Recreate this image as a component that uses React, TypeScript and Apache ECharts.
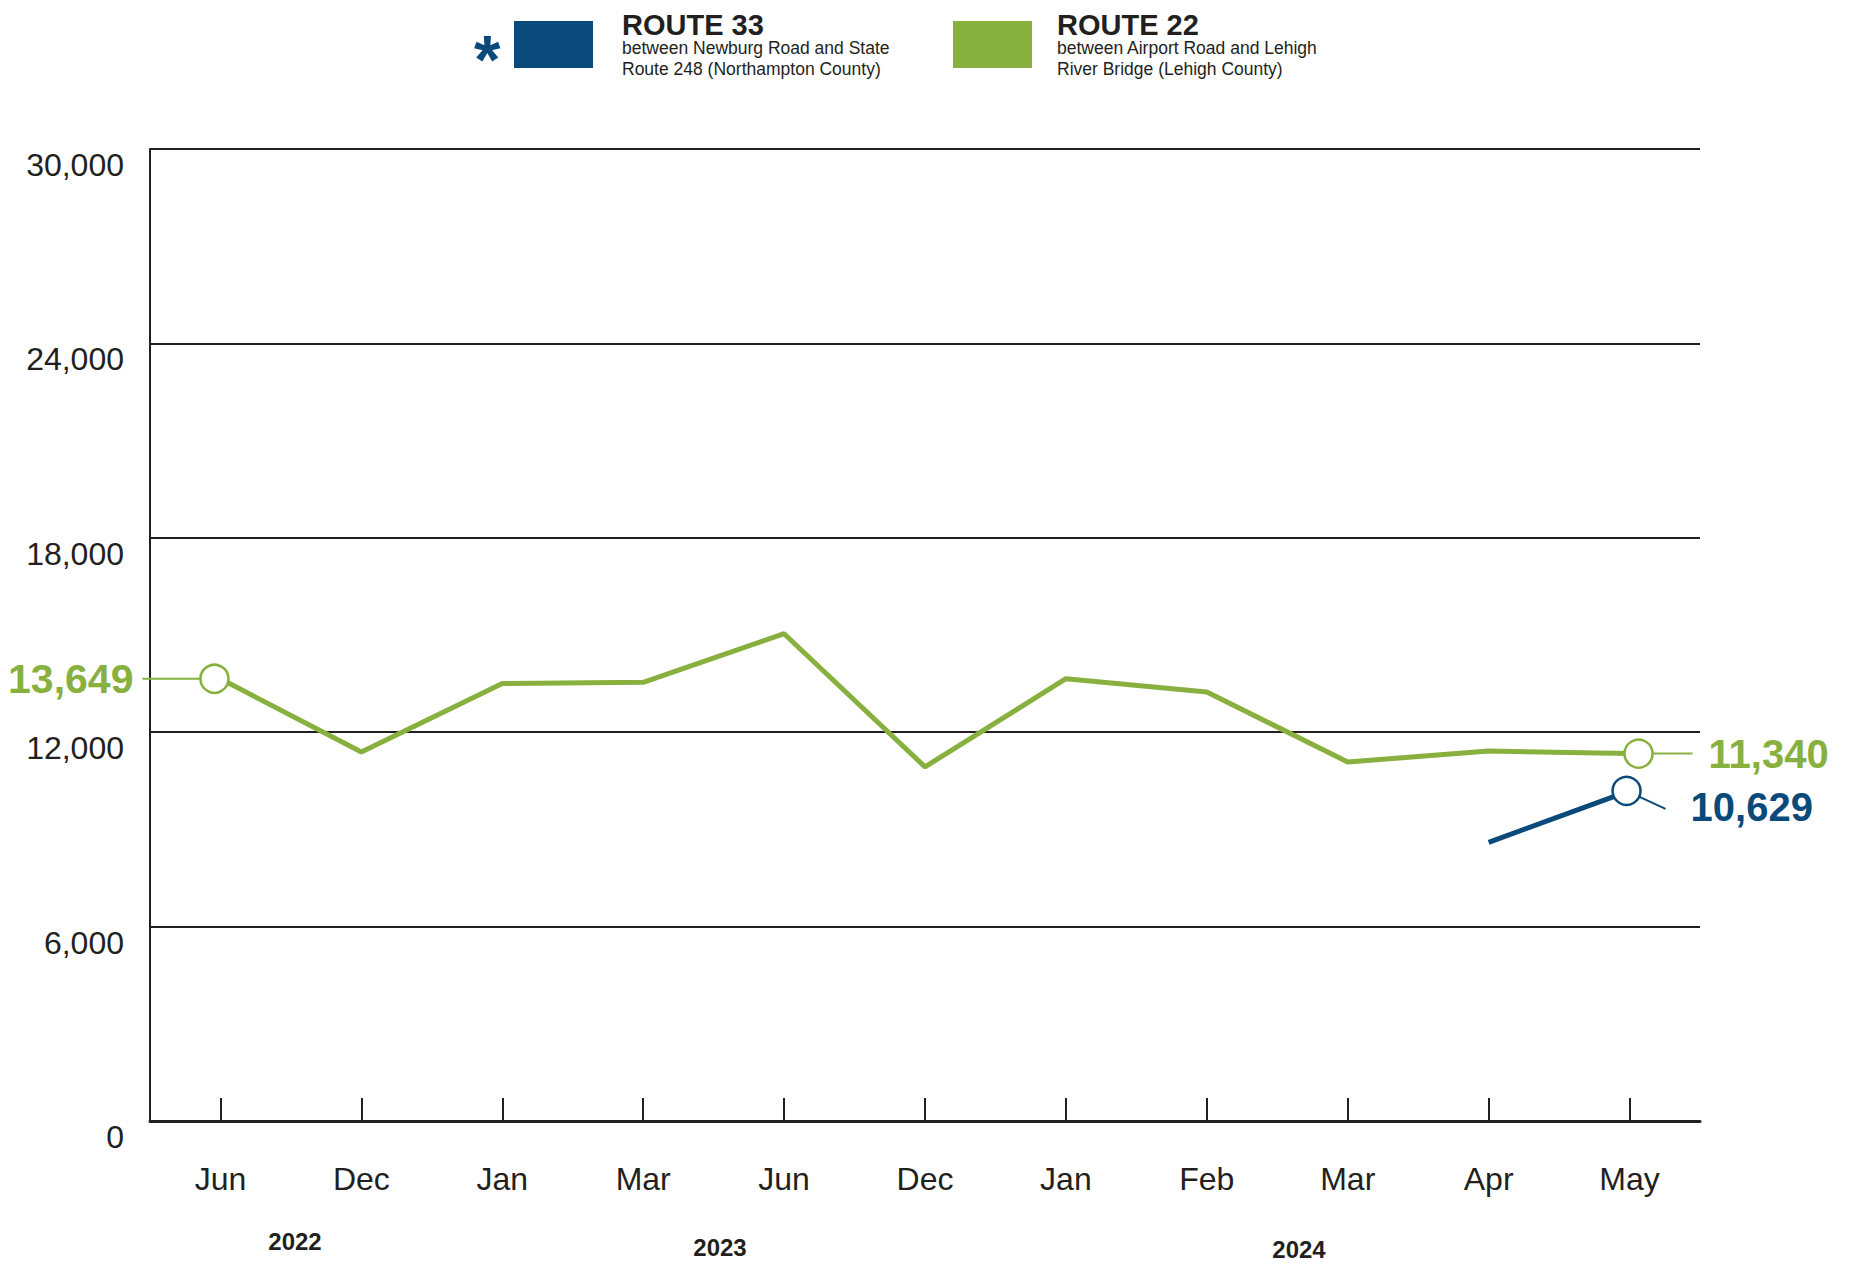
import React, { useEffect, useRef } from "react";
import * as echarts from "echarts";

const months = ["Jun", "Dec", "Jan", "Mar", "Jun", "Dec", "Jan", "Feb", "Mar", "Apr", "May"];
const route22 = [13649, 11390, 13500, 13540, 15040, 10930, 13650, 13240, 11080, 11420, 11340];
const route33 = [null, null, null, null, null, null, null, null, null, 8600, 10190];
const route33LastLabel = "10,629";
const yearLabels = ["2022", "2023", "2024"];
const yearPos = [[295, 1241], [720, 1247], [1299, 1249]];
const yMin = 0;
const yMax = 30000;
const yInterval = 6000;

const BLUE = "#0a4a7a";
const GREEN = "#87b03e";
const DARK = "#231f20";
const FONT = "'Liberation Sans', Arial, Helvetica, sans-serif";

const fmt = (v: number) => v.toLocaleString("en-US");

export default function App() {
  const ref = useRef<HTMLDivElement>(null);
  useEffect(() => {
    if (!ref.current) return;
    const chart = echarts.init(ref.current, undefined, { renderer: "svg" });
    const last = months.length - 1;
    const offsets: Record<string, number> = { g0: -6, gL: 9, bL: -3 };
    const pt = (arr: (number | null)[], i: number, keep: Record<number, number>, color: string) => {
      const v = arr[i];
      if (v == null) return null;
      if (i in keep) {
        return {
          value: v,
          symbol: "circle",
          symbolSize: 28,
          symbolOffset: [keep[i], 0],
          itemStyle: { color: "#ffffff", borderColor: color, borderWidth: 2.5 },
        };
      }
      return { value: v, symbol: "none" };
    };
    chart.setOption({
      animation: false,
      textStyle: { fontFamily: FONT },
      grid: { left: 150, right: 150, top: 149, bottom: 142, containLabel: false },
      xAxis: {
        type: "category",
        data: months,
        boundaryGap: true,
        axisLine: { show: true, lineStyle: { color: DARK, width: 3 } },
        axisTick: { show: true, inside: true, length: 23, alignWithLabel: true, lineStyle: { color: DARK, width: 2 } },
        axisLabel: { fontSize: 32, color: DARK, margin: 42, fontFamily: FONT },
        splitLine: { show: false },
      },
      yAxis: {
        type: "value",
        min: yMin,
        max: yMax,
        interval: yInterval,
        axisLine: { show: true, lineStyle: { color: DARK, width: 2 } },
        axisTick: { show: false },
        axisLabel: {
          fontSize: 32,
          color: DARK,
          margin: 26,
          verticalAlign: "top",
          fontFamily: FONT,
          formatter: (v: number) => fmt(v),
        },
        splitLine: { show: true, lineStyle: { color: DARK, width: 2 } },
      },
      series: [
        {
          name: "ROUTE 33",
          type: "line",
          data: route33.map((_, i) => pt(route33, i, { [last]: offsets.bL }, BLUE)),
          lineStyle: { color: BLUE, width: 5 },
          itemStyle: { color: BLUE },
          symbol: "circle",
          z: 3,
        },
        {
          name: "ROUTE 22",
          type: "line",
          data: route22.map((_, i) => pt(route22, i, { 0: offsets.g0, [last]: offsets.gL }, GREEN)),
          lineStyle: { color: GREEN, width: 5 },
          itemStyle: { color: GREEN },
          symbol: "circle",
          z: 4,
        },
      ],
    });

    const g0 = chart.convertToPixel({ seriesIndex: 1 }, [0, route22[0]]) as number[];
    const g1 = chart.convertToPixel({ seriesIndex: 1 }, [last, route22[last]]) as number[];
    const b1 = chart.convertToPixel({ seriesIndex: 0 }, [last, route33[last] as number]) as number[];
    const g0x = g0[0] + offsets.g0;
    const g1x = g1[0] + offsets.gL;
    const b1x = b1[0] + offsets.bL;

    const graphic: any[] = [
      // legend
      { type: "text", left: 474, top: 25, style: { text: "*", fill: BLUE, font: `bold 68px ${FONT}` } },
      { type: "rect", shape: { x: 514, y: 21, width: 79, height: 47 }, style: { fill: BLUE } },
      { type: "text", x: 622, y: 10, style: { text: "ROUTE 33", fill: DARK, font: `bold 29px ${FONT}`, verticalAlign: "top" } },
      { type: "text", x: 622, y: 48, style: { text: "between Newburg Road and State", fill: DARK, font: `17.5px ${FONT}`, verticalAlign: "middle" } },
      { type: "text", x: 622, y: 69, style: { text: "Route 248 (Northampton County)", fill: DARK, font: `17.5px ${FONT}`, verticalAlign: "middle" } },
      { type: "rect", shape: { x: 953, y: 21, width: 79, height: 47 }, style: { fill: GREEN } },
      { type: "text", x: 1057, y: 10, style: { text: "ROUTE 22", fill: DARK, font: `bold 29px ${FONT}`, verticalAlign: "top" } },
      { type: "text", x: 1057, y: 48, style: { text: "between Airport Road and Lehigh", fill: DARK, font: `17.5px ${FONT}`, verticalAlign: "middle" } },
      { type: "text", x: 1057, y: 69, style: { text: "River Bridge (Lehigh County)", fill: DARK, font: `17.5px ${FONT}`, verticalAlign: "middle" } },
      // annotations
      { type: "line", shape: { x1: g0x - 72, y1: g0[1], x2: g0x - 14, y2: g0[1] }, style: { stroke: GREEN, lineWidth: 2 }, z: 10 },
      { type: "text", x: g0x - 81, y: g0[1], style: { text: fmt(route22[0]), fill: GREEN, font: `bold 41px ${FONT}`, align: "right", verticalAlign: "middle" }, z: 10 },
      { type: "line", shape: { x1: g1x + 14, y1: g1[1], x2: g1x + 54, y2: g1[1] }, style: { stroke: GREEN, lineWidth: 2 }, z: 10 },
      { type: "text", x: g1x + 70, y: g1[1], style: { text: fmt(route22[last]), fill: GREEN, font: `bold 40px ${FONT}`, align: "left", verticalAlign: "middle" }, z: 10 },
      { type: "line", shape: { x1: b1x + 13, y1: b1[1] + 6, x2: b1x + 39, y2: b1[1] + 18 }, style: { stroke: BLUE, lineWidth: 2 }, z: 10 },
      { type: "text", x: b1x + 64, y: b1[1] + 16, style: { text: route33LastLabel, fill: BLUE, font: `bold 40px ${FONT}`, align: "left", verticalAlign: "middle" }, z: 10 },
    ];
    yearLabels.forEach((t, i) => {
      graphic.push({
        type: "text",
        x: yearPos[i][0],
        y: yearPos[i][1],
        style: { text: t, fill: DARK, font: `bold 24px ${FONT}`, align: "center", verticalAlign: "middle" },
      });
    });
    chart.setOption({ graphic });

    return () => chart.dispose();
  }, []);
  return (
    <div
      ref={ref}
      style={{ position: "fixed", left: 0, top: 0, width: 1850, height: 1263, background: "#ffffff" }}
    />
  );
}
